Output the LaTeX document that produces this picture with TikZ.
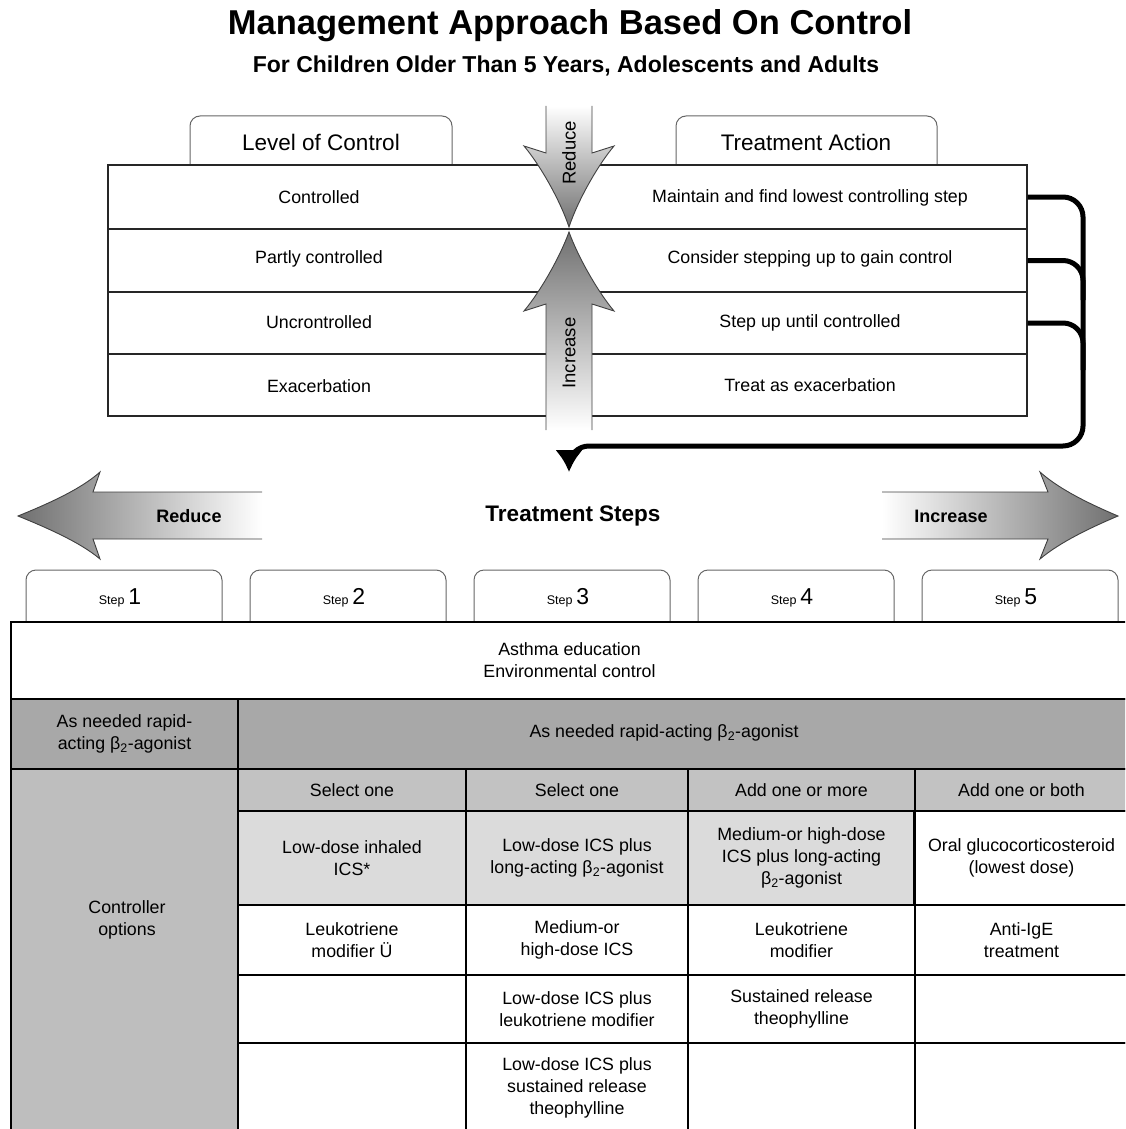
\documentclass[tikz,border=0pt]{standalone}
\usepackage{fontspec}
\setmainfont{Liberation Sans}
\usetikzlibrary{arrows.meta,positioning}

\definecolor{rapidgray}{RGB}{168,168,168}
\definecolor{ctrlgray}{RGB}{190,190,190}
\definecolor{selectgray}{RGB}{194,194,194}
\definecolor{firstgray}{RGB}{219,219,219}
\definecolor{arrowdark}{RGB}{112,112,112}

\begin{document}
\begin{tikzpicture}[x=1pt, y=-1pt,
    rowbox/.style={rectangle, draw=black!85, line width=1.3pt, fill=white,
                   minimum width=919pt, inner sep=0pt},
    txt/.style={font=\fontsize{17.8}{22}\selectfont, align=center, inner sep=0pt},
    tabline/.style={draw=black!60, line width=1pt, rounded corners=10pt},
    tabtext/.style={font=\fontsize{22.5}{26}\selectfont, inner sep=0pt},
    cell/.style={rectangle, draw=black, line width=1.7pt, inner sep=0pt,
                 align=center, font=\fontsize{17.8}{22}\selectfont},
    bigarrow/.style={draw=black!75, line width=0.9pt},
    conn/.style={line width=5pt, rounded corners=20pt}]

\useasboundingbox (0,0) rectangle (1125,1129);
\clip (0,0) rectangle (1125,1129);

% Heading
\node[font=\bfseries\fontsize{34.5}{40}\selectfont] (title) at (570,26)
    {Management Approach Based On Control};
\node[font=\bfseries\fontsize{23}{28}\selectfont] (subtitle) at (566,66)
    {For Children Older Than 5 Years, Adolescents and Adults};

% Control table: tabs, rows, texts
\draw[tabline] (190,165) |- (321,116) -| (452,165);
\draw[tabline] (676,165) |- (806,116) -| (937,165);
\node[tabtext] (level) at (321,142) {Level of Control};
\node[tabtext] (action) at (806,142) {Treatment Action};

\node[rowbox, minimum height=64pt] (r1) at (567.5,197) {};
\node[rowbox, minimum height=63pt] (r2) at (567.5,260.5) {};
\node[rowbox, minimum height=62pt] (r3) at (567.5,323) {};
\node[rowbox, minimum height=62pt] (r4) at (567.5,385) {};

\node[txt] (lv1) at (319,197) {Controlled};
\node[txt] (lv2) at (319,259) {Partly controlled};
\node[txt] (lv3) at (319,322) {Uncrontrolled};
\node[txt] (lv4) at (319,386) {Exacerbation};
\node[txt] (ac1) at (810,198) {Maintain and find lowest controlling step};
\node[txt] (ac2) at (810,259) {Consider stepping up to gain control};
\node[txt] (ac3) at (810,323) {Step up until controlled};
\node[txt] (ac4) at (810,385) {Treat as exacerbation};

% Reduce / Increase arrows across the table
\draw[bigarrow, top color=white, bottom color=arrowdark]
    (546,106) -- (546,153) -- (524,146)
    .. controls (540,165) and (560,200) .. (569,227)
    .. controls (578,200) and (598,165) .. (614,146)
    -- (592,153) -- (592,106);
\draw[bigarrow, bottom color=white, top color=arrowdark]
    (546,430) -- (546,304) -- (524,311)
    .. controls (540,292) and (560,257) .. (569,232)
    .. controls (578,257) and (598,292) .. (614,311)
    -- (592,304) -- (592,430);
\node[rotate=90, font=\fontsize{18.5}{20}\selectfont] (down) at (569,153) {Reduce};
\node[rotate=90, font=\fontsize{18.5}{20}\selectfont] (up) at (569,353) {Increase};

% Feedback into the treatment steps
\coordinate (drop) at (569,472);
\draw[conn, -{Latex[length=22pt,width=28pt]}] (r1.east) -| (1083,446) -| (drop);
\draw[conn] (r2.east) -| (1083,300);
\draw[conn] (r3.east) -| (1083,370);

\node[font=\bfseries\fontsize{22.5}{26}\selectfont] (steps) at (573,516) {Treatment Steps};

\draw[bigarrow, right color=white, left color=arrowdark]
    (262,492) -- (93,492) -- (100,472)
    .. controls (80,490) and (45,505) .. (18,516)
    .. controls (45,527) and (80,542) .. (100,559)
    -- (93,539) -- (262,539);
\draw[bigarrow, left color=white, right color=arrowdark]
    (882,492) -- (1048,492) -- (1040,472)
    .. controls (1060,490) and (1092,505) .. (1118,516)
    .. controls (1092,527) and (1060,542) .. (1040,559)
    -- (1048,539) -- (882,539);
\node[font=\bfseries\fontsize{18}{20}\selectfont] (less) at (189,516) {Reduce};
\node[font=\bfseries\fontsize{18}{20}\selectfont] (more) at (951,516) {Increase};

% Step tabs
\foreach \n/\x in {1/124,2/348,3/572,4/796,5/1020}{
  \draw[tabline] (\x-98,622) |- (\x,570) -| (\x+98,622);
  \node[font=\fontsize{23}{26}\selectfont, inner sep=0pt] (step\n) at (\x-4,598)
      {{\fontsize{12.5}{14}\selectfont Step}\,\n};
}

% Steps table
\node[cell, minimum width=1117pt, minimum height=77pt] (edu) at (569.5,660.5)
    {Asthma education\\Environmental control};
\node[cell, fill=rapidgray, minimum width=227pt, minimum height=70pt] (rapid0) at (124.5,734)
    {As needed rapid-\\acting β\textsubscript{2}-agonist};
\node[cell, fill=rapidgray, minimum width=890pt, minimum height=70pt] (rapid) at (683,734) {};
\node[txt] (rapidtext) at (664,733) {As needed rapid-acting β\textsubscript{2}-agonist};
\node[cell, fill=ctrlgray, minimum width=227pt, minimum height=363pt] (ctrl) at (124.5,950.5) {};
\node[txt] (ctrltext) at (127,920) {Controller\\options};

\node[cell, fill=selectgray, minimum width=228pt, minimum height=42pt] (sel1) at (352,790) {Select one};
\node[cell, fill=selectgray, minimum width=222pt, minimum height=42pt] (sel2) at (577,790) {Select one};
\node[cell, fill=selectgray, minimum width=227pt, minimum height=42pt] (sel3) at (801.5,790) {Add one or more};
\node[cell, fill=selectgray, minimum width=213pt, minimum height=42pt] (sel4) at (1021.5,790) {Add one or both};

\node[cell, fill=firstgray, minimum width=228pt, minimum height=94pt] (d1) at (352,858)
    {Low-dose inhaled\\ICS*};
\node[cell, fill=firstgray, minimum width=222pt, minimum height=94pt] (d2) at (577,858)
    {Low-dose ICS plus\\long-acting β\textsubscript{2}-agonist};
\node[cell, fill=firstgray, minimum width=227pt, minimum height=94pt] (d3) at (801.5,858)
    {Medium-or high-dose\\ICS plus long-acting\\β\textsubscript{2}-agonist};
\node[cell, minimum width=213pt, minimum height=94pt] (d4) at (1021.5,858)
    {Oral glucocorticosteroid\\(lowest dose)};
\draw[line width=2.8pt] (d4.north west) -- (d4.south west);

\node[cell, minimum width=228pt, minimum height=70pt] (e1) at (352,940) {Leukotriene\\modifier Ü};
\node[cell, minimum width=222pt, minimum height=70pt] (e2) at (577,940) {Medium-or\\high-dose ICS};
\node[cell, minimum width=227pt, minimum height=70pt] (e3) at (801.5,940) {Leukotriene\\modifier};
\node[cell, minimum width=213pt, minimum height=70pt] (e4) at (1021.5,940) {Anti-IgE\\treatment};

\node[cell, minimum width=228pt, minimum height=68pt] (f1) at (352,1009) {};
\node[cell, minimum width=222pt, minimum height=68pt] (f2) at (577,1009)
    {Low-dose ICS plus\\leukotriene modifier};
\node[cell, minimum width=227pt, minimum height=68pt] (f3) at (801.5,1009)
    {Sustained release\\theophylline};
\node[cell, minimum width=213pt, minimum height=68pt] (f4) at (1021.5,1009) {};

\node[cell, minimum width=228pt, minimum height=89pt] (g1) at (352,1087.5) {};
\node[cell, minimum width=222pt, minimum height=89pt] (g2) at (577,1087.5)
    {Low-dose ICS plus\\sustained release\\theophylline};
\node[cell, minimum width=227pt, minimum height=89pt] (g3) at (801.5,1087.5) {};
\node[cell, minimum width=213pt, minimum height=89pt] (g4) at (1021.5,1087.5) {};
\end{tikzpicture}
\end{document}
